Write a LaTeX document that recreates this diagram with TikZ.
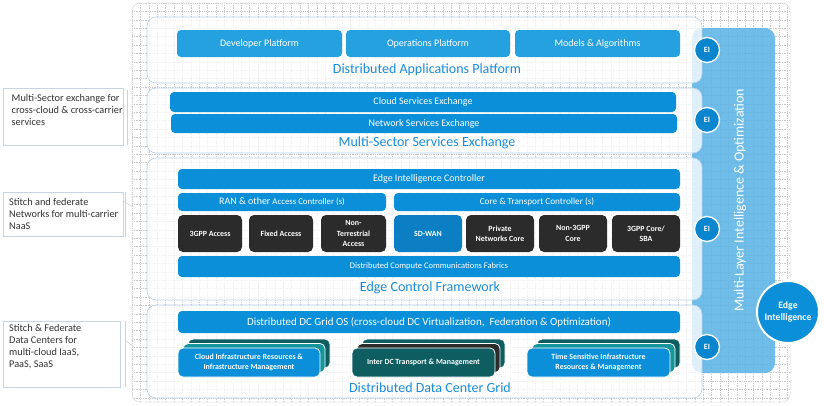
\documentclass[tikz,border=0pt]{standalone}
\usepackage{fontspec}
\setmainfont{Carlito}
\definecolor{gridc}{RGB}{200,200,200}
\definecolor{bandblue}{RGB}{88,178,230}
\definecolor{panelb}{RGB}{178,208,235}
\definecolor{ttlblue}{RGB}{26,140,215}
\definecolor{bxblue}{RGB}{10,143,216}
\definecolor{bxlight}{RGB}{38,161,223}
\definecolor{bxdark}{RGB}{43,43,43}
\definecolor{sdwan}{RGB}{11,126,196}
\definecolor{teal}{RGB}{19,150,155}
\definecolor{dteal}{RGB}{13,93,97}
\definecolor{eiblue}{RGB}{10,134,207}
\definecolor{notec}{RGB}{200,212,225}
\definecolor{notetxt}{RGB}{50,50,50}
\tikzset{
  gridline/.style={gridc, line width=0.45pt, dash pattern=on 0.9pt off 0.9pt},
  panel/.style={draw=panelb, line width=0.6pt, fill=white, fill opacity=0.78, rounded corners=9pt, inner sep=0pt},
  bx/.style={fill=#1, rounded corners=4pt, text=white, inner sep=0pt, align=center, font=\fontsize{10}{12}\selectfont},
  dbx/.style={fill=#1, rounded corners=5pt, text=white, inner sep=0pt, align=center, font=\bfseries\fontsize{7.9}{10.2}\selectfont},
  stk/.style={fill=#1, draw=white, line width=0.8pt, rounded corners=5pt, text=white, inner sep=0pt, align=center, font=\bfseries\fontsize{7.9}{10}\selectfont},
  ttl/.style={text=ttlblue, inner sep=0pt, font=\fontsize{14}{16}\selectfont},
  ei/.style={circle, fill=eiblue, draw=white, line width=1.3pt, minimum size=25pt, inner sep=0pt, text=white, font=\bfseries\fontsize{8}{10}\selectfont},
  notebox/.style={draw=notec, line width=0.6pt, inner sep=0pt},
  notetext/.style={text=notetxt, inner sep=0pt, align=left, font=\fontsize{10.3}{12}\selectfont},
  notebar/.style={draw=notec, line width=0.8pt},
  notelead/.style={draw=notec, line width=0.5pt},
}
\begin{document}
\begin{tikzpicture}[x=1pt,y=-1pt]
\useasboundingbox (0,0) rectangle (824,405);
% grid background
\begin{scope}
\clip[rounded corners=8pt] (132,3) rectangle (790,402);
\foreach \i in {0,...,78} \draw[gridline] ({132+\i*8.4},3) -- ({132+\i*8.4},402);
\foreach \j in {0,...,47} \draw[gridline] (132,{3+\j*8.4}) -- (790,{3+\j*8.4});
\end{scope}
\draw[gridc!70, line width=0.5pt, rounded corners=8pt] (132,3) rectangle (790,402);
% band
\node[fill=bandblue, fill opacity=0.85, rounded corners=10pt, minimum width=83pt, minimum height=345pt, inner sep=0pt] (band) at (733.5,200.5) {};
% panels
\node[panel, minimum width=555pt, minimum height=66pt] (p1) at (424.5,50) {};
\node[panel, minimum width=555pt, minimum height=65pt] (p2) at (424.5,120.5) {};
\node[panel, minimum width=555pt, minimum height=142pt] (p3) at (424.5,229) {};
\node[panel, minimum width=555pt, minimum height=93pt] (p4) at (424.5,351.5) {};
% layer 1
\node[bx=bxlight, minimum width=165pt, minimum height=27pt] (dev) at (259.5,43.5) {Developer Platform};
\node[bx=bxlight, minimum width=164pt, minimum height=27pt] (ops) at (428,43.5) {Operations Platform};
\node[bx=bxlight, minimum width=165pt, minimum height=27pt] (mod) at (597.5,43.5) {Models \& Algorithms};
\node[ttl] (t1) at (427,70) {Distributed Applications Platform};
% layer 2
\node[bx=bxblue, minimum width=506pt, minimum height=20pt] (cse) at (423,102) {Cloud Services Exchange};
\node[bx=bxblue, minimum width=506pt, minimum height=19pt] (nse) at (424,123.5) {Network Services Exchange};
\node[ttl] (t2) at (427,143) {Multi-Sector Services Exchange};
% layer 3
\node[bx=bxblue, minimum width=502pt, minimum height=20pt] (eic) at (429,179) {Edge Intelligence Controller};
\node[bx=bxblue, minimum width=208pt, minimum height=18pt, font=\fontsize{8.8}{12}\selectfont] (ran) at (282,202) {{\fontsize{10}{12}\selectfont RAN \& other} Access Controller (s)};
\node[bx=bxblue, minimum width=286pt, minimum height=18pt, font=\fontsize{9.2}{12}\selectfont] (core) at (537,202) {Core \& Transport Controller (s)};
\node[dbx=bxdark, minimum width=64pt, minimum height=37pt] (a3gpp) at (210,233.5) {3GPP Access};
\node[dbx=bxdark, minimum width=64pt, minimum height=37pt] (fixed) at (281,233.5) {Fixed Access};
\node[dbx=bxdark, minimum width=65pt, minimum height=37pt] (nonterr) at (353.5,233.5) {Non-\\Terrestrial\\Access};
\node[dbx=sdwan, minimum width=68pt, minimum height=37pt] (sdwan) at (428,233.5) {SD-WAN};
\node[dbx=bxdark, minimum width=68pt, minimum height=37pt] (priv) at (500,233.5) {Private\\Networks Core};
\node[dbx=bxdark, minimum width=68pt, minimum height=37pt] (non3) at (573,233.5) {Non-3GPP\\Core};
\node[dbx=bxdark, minimum width=68pt, minimum height=37pt] (c3gpp) at (646,233.5) {3GPP Core/\\SBA};
\node[bx=bxblue, minimum width=502pt, minimum height=21pt, font=\fontsize{8.5}{12}\selectfont] (dccf) at (429,266.5) {Distributed Compute Communications Fabrics};
\node[ttl] (t3) at (430,288) {Edge Control Framework};
% layer 4
\node[bx=bxblue, minimum width=502pt, minimum height=22pt, font=\fontsize{11}{13}\selectfont] (dcos) at (429,322) {Distributed DC Grid OS (cross-cloud DC Virtualization,\ \ Federation \& Optimization)};
% cloud stack
\node[stk=dteal, minimum width=142pt, minimum height=29pt] (cl3) at (259,353.5) {};
\node[stk=teal, minimum width=142pt, minimum height=29pt] (cl2) at (254,358) {};
\node[stk=bxblue, minimum width=142pt, minimum height=29pt] (cl1) at (249,362.5) {Cloud Infrastructure Resources \&\\Infrastructure Management};
% inter dc stack
\node[stk=dteal, minimum width=143pt, minimum height=29pt] (ic3) at (433.5,353.5) {};
\node[stk=bxdark, minimum width=143pt, minimum height=29pt] (ic2) at (428.5,358) {};
\node[stk=dteal, minimum width=143pt, minimum height=29pt] (ic1) at (423.5,362.5) {Inter DC Transport \& Management};
% time sensitive stack
\node[stk=dteal, minimum width=143pt, minimum height=29pt] (ts3) at (608.5,353.5) {};
\node[stk=teal, minimum width=143pt, minimum height=29pt] (ts2) at (603.5,358) {};
\node[stk=bxblue, minimum width=143pt, minimum height=29pt] (ts1) at (598.5,362.5) {Time Sensitive Infrastructure\\Resources \& Management};
\node[ttl] (t4) at (430,388) {Distributed Data Center Grid};
% EI circles
\node[ei] (ei1) at (707,50) {EI};
\node[ei] (ei2) at (707,120) {EI};
\node[ei] (ei3) at (707,229) {EI};
\node[ei] (ei4) at (707,347) {EI};
% band text
\node[rotate=90, text=white, inner sep=0pt, font=\fontsize{14}{16}\selectfont] (bandtxt) at (740,200) {Multi-Layer Intelligence \& Optimization};
% edge intelligence circle
\node[circle, fill=bxblue, draw=white, line width=2pt, minimum size=62pt, inner sep=0pt, text=white, align=center, font=\bfseries\fontsize{9.8}{12.5}\selectfont] (edge) at (788,312) {Edge\\Intelligence};
% notes
\node[notebox, minimum width=120pt, minimum height=57pt, anchor=north west] (n1) at (3,88) {};
\node[notetext, anchor=north west] (n1t) at (11.5,94) {Multi-Sector exchange for\\cross-cloud \& cross-carrier\\services};
\coordinate (n1a) at (127.5,90);
\coordinate (n1b) at (127.5,145);
\draw[notebar] (n1a) -- (n1b);
\node[notebox, minimum width=120pt, minimum height=44pt, anchor=north west] (n2) at (3,192) {};
\node[notetext, anchor=north west] (n2t) at (9,198) {Stitch and federate\\Networks for multi-carrier\\NaaS};
\coordinate (n2a) at (125.5,192);
\coordinate (n2b) at (125.5,237);
\coordinate (n2p) at (133,207);
\draw[notebar] (n2a) -- (n2b);
\draw[notelead] (123,201) -- (n2p);
\node[notebox, minimum width=117pt, minimum height=66pt, anchor=north west] (n3) at (3,321) {};
\node[notetext, anchor=north west] (n3t) at (9,324) {Stitch \& Federate\\Data Centers for\\multi-cloud IaaS,\\PaaS, SaaS};
\coordinate (n3a) at (125,321);
\coordinate (n3b) at (125,387);
\coordinate (n3p) at (134,347);
\draw[notebar] (n3a) -- (n3b);
\draw[notelead] (125,340) -- (n3p);
\end{tikzpicture}
\end{document}
